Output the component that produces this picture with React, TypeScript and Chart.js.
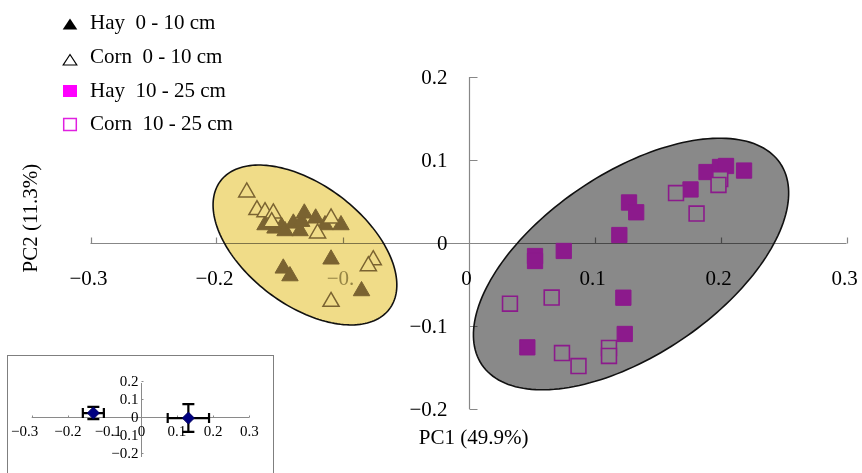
import React, { useEffect, useRef } from "react";
import { Chart, registerables } from "chart.js";

Chart.register(...registerables);

// ---------- DATA ----------
const SERIES_LABELS = ["Hay  0 - 10 cm", "Corn  0 - 10 cm", "Hay  10 - 25 cm", "Corn  10 - 25 cm"];

const HAY_0_10_X = [-0.1615, -0.1536, -0.1483, -0.1456, -0.139, -0.1337, -0.1324, -0.1303, -0.1213, -0.1139, -0.1012, -0.1091, -0.147, -0.1417, -0.0849];
const HAY_0_10_Y = [0.0217, 0.0177, 0.0196, 0.0145, 0.0237, 0.0145, 0.0257, 0.0358, 0.0298, 0.0217, 0.0217, -0.0196, -0.0305, -0.0398, -0.0578];

const CORN_0_10_X = [-0.176, -0.1679, -0.1615, -0.1549, -0.1562, -0.1091, -0.1198, -0.0756, -0.0795, -0.1091];
const CORN_0_10_Y = [0.0611, 0.0398, 0.0373, 0.0358, 0.0253, 0.0298, 0.0117, -0.0205, -0.0277, -0.0707];

const HAY_10_25_X = [0.0528, 0.0528, 0.0756, 0.1197, 0.1274, 0.1331, 0.1229, 0.124, 0.0467, 0.1762, 0.1889, 0.1996, 0.2044, 0.2187];
const HAY_10_25_Y = [-0.0157, -0.0217, -0.0096, 0.0096, 0.0488, 0.037, -0.0659, -0.1096, -0.1257, 0.0645, 0.0855, 0.0916, 0.0928, 0.0873];

const CORN_10_25_X = [0.0329, 0.066, 0.0742, 0.0873, 0.1115, 0.1115, 0.1647, 0.181, 0.1998, 0.1984];
const CORN_10_25_Y = [-0.0731, -0.0657, -0.1326, -0.1483, -0.1265, -0.1361, 0.0602, 0.0355, 0.0771, 0.0699];

// ellipses: [centerX, centerY, axis1X, axis1Y, axis2X, axis2Y] in data units
const ELLIPSE_0_10 = [-0.1298, -0.0024, 0.067, -0.0772, -0.0288, -0.0576];
const ELLIPSE_10_25 = [0.129, -0.0253, 0.1184, 0.1213, 0.0404, -0.0909];

const X_TICKS = [-0.3, -0.2, -0.1, 0, 0.1, 0.2, 0.3];
const X_TICK_LABELS = ["\u22120.3", "\u22120.2", "\u22120.", "0", "0.1", "0.2", "0.3"];
const Y_TICKS = [-0.2, -0.1, 0, 0.1, 0.2];
const Y_TICK_LABELS = ["\u22120.2", "\u22120.1", "0", "0.1", "0.2"];
const X_TITLE = "PC1 (49.9%)";
const Y_TITLE = "PC2 (11.3%)";

// inset
const INSET_X = [-0.13, 0.132];
const INSET_Y = [0.022, -0.006];
const INSET_X_ERR = [0.029, 0.057];
const INSET_Y_ERR = [0.034, 0.077];
const INSET_X_TICKS = [-0.3, -0.2, -0.1, 0, 0.1, 0.2, 0.3];
const INSET_X_TICK_LABELS = ["\u22120.3", "\u22120.2", "\u22120.1", "0", "0.1", "0.2", "0.3"];
const INSET_Y_TICKS = [-0.2, -0.1, 0, 0.1, 0.2];
const INSET_Y_TICK_LABELS = ["\u22120.2", "\u22120.1", "0", "0.1", "0.2"];

// ---------- STYLE ----------
const FONT = "'Liberation Serif', 'Times New Roman', serif";
const YELLOW = "#F0DC88";
const GRAY = "#898989";
const OLIVE = "#7A6331";
const PURPLE = "#8C1A8C";
const AXIS = "rgba(0,0,0,0.47)";

const toPoints = (xs: number[], ys: number[]) => xs.map((x, i) => ({ x, y: ys[i] }));

function ellipsePath(chart: any, e: number[]) {
  const { ctx } = chart;
  const xs = chart.scales.x, ys = chart.scales.y;
  ctx.beginPath();
  const n = 180;
  for (let i = 0; i <= n; i++) {
    const t = (i / n) * Math.PI * 2;
    const dx = e[0] + e[2] * Math.cos(t) + e[4] * Math.sin(t);
    const dy = e[1] + e[3] * Math.cos(t) + e[5] * Math.sin(t);
    const px = xs.getPixelForValue(dx), py = ys.getPixelForValue(dy);
    if (i === 0) ctx.moveTo(px, py); else ctx.lineTo(px, py);
  }
  ctx.closePath();
}

const mainDecor = {
  id: "mainDecor",
  beforeDatasetsDraw(chart: any) {
    const { ctx } = chart;
    const xs = chart.scales.x, ys = chart.scales.y;
    const px = (v: number) => xs.getPixelForValue(v);
    const py = (v: number) => ys.getPixelForValue(v);
    ctx.save();
    // ellipse fills
    ellipsePath(chart, ELLIPSE_0_10);
    ctx.fillStyle = YELLOW;
    ctx.fill();
    ellipsePath(chart, ELLIPSE_10_25);
    ctx.fillStyle = GRAY;
    ctx.fill();

    // axes
    ctx.strokeStyle = AXIS;
    ctx.lineWidth = 1.2;
    const y0 = Math.round(py(0)) + 0.5;
    const x0 = Math.round(px(0)) + 0.5;
    ctx.beginPath();
    ctx.moveTo(px(-0.3), y0);
    ctx.lineTo(px(0.3), y0);
    X_TICKS.forEach((v) => {
      const x = Math.round(px(v)) + 0.5;
      ctx.moveTo(x, y0);
      ctx.lineTo(x, y0 - 6);
    });
    ctx.moveTo(x0, py(0.2));
    ctx.lineTo(x0, py(-0.2));
    Y_TICKS.forEach((v) => {
      const y = Math.round(py(v)) + 0.5;
      ctx.moveTo(x0, y);
      ctx.lineTo(x0 + 8, y);
    });
    ctx.stroke();

    // tick labels
    ctx.font = `21px ${FONT}`;
    ctx.textBaseline = "middle";
    ctx.textAlign = "center";
    X_TICKS.forEach((v, i) => {
      ctx.fillStyle = X_TICK_LABELS[i] === "\u22120." ? "rgba(60,45,0,0.5)" : "#000";
      ctx.fillText(X_TICK_LABELS[i], px(v) - 2, py(0) + 36);
    });
    ctx.fillStyle = "#000";
    ctx.textAlign = "right";
    Y_TICKS.forEach((v, i) => {
      ctx.fillText(Y_TICK_LABELS[i], px(0) - 21, py(v) + 1);
    });

    // titles
    ctx.textAlign = "center";
    ctx.fillText(X_TITLE, px(0.004), py(-0.2) + 29);
    ctx.save();
    ctx.translate(31, py(0.03));
    ctx.rotate(-Math.PI / 2);
    ctx.fillText(Y_TITLE, 0, 0);
    ctx.restore();

    // legend
    const lx = 70;
    const textX = 90;
    const baselines = [29.3, 62.7, 96.7, 130];
    ctx.textAlign = "left";
    ctx.textBaseline = "alphabetic";
    // filled triangle
    ctx.beginPath();
    ctx.moveTo(lx, 18.5);
    ctx.lineTo(lx + 7.3, 29.5);
    ctx.lineTo(lx - 7.3, 29.5);
    ctx.closePath();
    ctx.fillStyle = "#000";
    ctx.fill();
    // open triangle
    ctx.beginPath();
    ctx.moveTo(lx, 54.5);
    ctx.lineTo(lx + 6.8, 65);
    ctx.lineTo(lx - 6.8, 65);
    ctx.closePath();
    ctx.fillStyle = "#fff";
    ctx.fill();
    ctx.strokeStyle = "#000";
    ctx.lineWidth = 1.2;
    ctx.stroke();
    // filled square
    ctx.fillStyle = "#FF00FF";
    ctx.fillRect(lx - 7, 85, 14, 12);
    // open square
    ctx.strokeStyle = "#E020E0";
    ctx.lineWidth = 1.5;
    ctx.strokeRect(lx - 6.3, 118.5, 12.6, 12);
    ctx.fillStyle = "#000";
    SERIES_LABELS.forEach((s, i) => ctx.fillText(s, textX, baselines[i]));
    ctx.restore();
  },
  afterDatasetsDraw(chart: any) {
    const { ctx } = chart;
    ctx.save();
    ctx.strokeStyle = "#111";
    ctx.lineWidth = 1.6;
    ellipsePath(chart, ELLIPSE_0_10);
    ctx.stroke();
    ellipsePath(chart, ELLIPSE_10_25);
    ctx.stroke();
    ctx.restore();
  },
};

const insetDecor = {
  id: "insetDecor",
  beforeDatasetsDraw(chart: any) {
    const { ctx } = chart;
    const xs = chart.scales.x, ys = chart.scales.y;
    const px = (v: number) => xs.getPixelForValue(v);
    const py = (v: number) => ys.getPixelForValue(v);
    ctx.save();
    ctx.strokeStyle = "#8a8a8a";
    ctx.lineWidth = 1;
    const y0 = Math.round(py(0)) + 0.5;
    const x0 = Math.round(px(0)) + 0.5;
    ctx.beginPath();
    ctx.moveTo(px(-0.3), y0);
    ctx.lineTo(px(0.3), y0);
    INSET_X_TICKS.forEach((v) => {
      const x = Math.round(px(v)) + 0.5;
      ctx.moveTo(x, y0);
      ctx.lineTo(x, y0 - 2);
    });
    ctx.moveTo(x0, py(0.2) + 2);
    ctx.lineTo(x0, py(-0.2) + 4);
    INSET_Y_TICKS.forEach((v) => {
      const y = Math.round(py(v)) + 0.5;
      ctx.moveTo(x0, y);
      ctx.lineTo(x0 + 2, y);
    });
    ctx.stroke();
    ctx.fillStyle = "#000";
    ctx.font = `15px ${FONT}`;
    ctx.textBaseline = "middle";
    ctx.textAlign = "center";
    INSET_X_TICKS.forEach((v, i) => {
      const shift = v === -0.3 ? -7 : v === 0 ? 1 : v === -0.1 ? 4 : 0;
      ctx.fillText(INSET_X_TICK_LABELS[i], px(v) + shift, py(0) + 15);
    });
    ctx.textAlign = "right";
    INSET_Y_TICKS.forEach((v, i) => {
      ctx.fillText(INSET_Y_TICK_LABELS[i], px(0) - 2, py(v) + 1);
    });
    // error bars
    ctx.strokeStyle = "#000";
    ctx.lineWidth = 2.2;
    ctx.beginPath();
    INSET_X.forEach((xv, i) => {
      const yv = INSET_Y[i];
      const cx = px(xv), cy = py(yv);
      const xl = px(xv - INSET_X_ERR[i]), xr = px(xv + INSET_X_ERR[i]);
      const yt = py(yv + INSET_Y_ERR[i]), yb = py(yv - INSET_Y_ERR[i]);
      ctx.moveTo(xl, cy); ctx.lineTo(xr, cy);
      ctx.moveTo(xl, cy - 5); ctx.lineTo(xl, cy + 5);
      ctx.moveTo(xr, cy - 5); ctx.lineTo(xr, cy + 5);
      ctx.moveTo(cx, yt); ctx.lineTo(cx, yb);
      ctx.moveTo(cx - 6, yt); ctx.lineTo(cx + 6, yt);
      ctx.moveTo(cx - 6, yb); ctx.lineTo(cx + 6, yb);
    });
    ctx.stroke();
    ctx.restore();
  },
};

export default function App() {
  const mainRef = useRef<HTMLCanvasElement>(null);
  const insetRef = useRef<HTMLCanvasElement>(null);

  useEffect(() => {
    const main = new Chart(mainRef.current as HTMLCanvasElement, {
      type: "scatter",
      data: {
        datasets: [
          {
            label: SERIES_LABELS[1],
            data: toPoints(CORN_0_10_X, CORN_0_10_Y),
            pointStyle: "triangle",
            pointRadius: 9.3,
            pointBackgroundColor: YELLOW,
            pointBorderColor: OLIVE,
            pointBorderWidth: 1.5,
          },
          {
            label: SERIES_LABELS[0],
            data: toPoints(HAY_0_10_X, HAY_0_10_Y),
            pointStyle: "triangle",
            pointRadius: 9.5,
            pointBackgroundColor: OLIVE,
            pointBorderColor: OLIVE,
            pointBorderWidth: 1,
          },
          {
            label: SERIES_LABELS[3],
            data: toPoints(CORN_10_25_X, CORN_10_25_Y),
            pointStyle: "rect",
            pointRadius: 10.5,
            pointBackgroundColor: GRAY,
            pointBorderColor: PURPLE,
            pointBorderWidth: 1.6,
          },
          {
            label: SERIES_LABELS[2],
            data: toPoints(HAY_10_25_X, HAY_10_25_Y),
            pointStyle: "rect",
            pointRadius: 10.8,
            pointBackgroundColor: PURPLE,
            pointBorderColor: PURPLE,
            pointBorderWidth: 1,
          },
        ],
      },
      options: {
        responsive: false,
        animation: false,
        events: [],
        layout: { padding: { left: 90.5, right: 15.5, top: 77, bottom: 64 } },
        plugins: { legend: { display: false }, tooltip: { enabled: false } },
        scales: {
          x: { type: "linear", min: -0.3, max: 0.3, display: false },
          y: { type: "linear", min: -0.2, max: 0.2, display: false },
        },
      },
      plugins: [mainDecor],
    });

    const inset = new Chart(insetRef.current as HTMLCanvasElement, {
      type: "scatter",
      data: {
        datasets: [
          {
            label: "mean",
            data: toPoints(INSET_X, INSET_Y),
            pointStyle: "rectRot",
            pointRadius: 6,
            pointBackgroundColor: "#000080",
            pointBorderColor: "#000060",
            pointBorderWidth: 1,
          },
        ],
      },
      options: {
        responsive: false,
        animation: false,
        events: [],
        layout: { padding: { left: 23.7, right: 23.7, top: 25, bottom: 20 } },
        plugins: { legend: { display: false }, tooltip: { enabled: false } },
        scales: {
          x: { type: "linear", min: -0.3, max: 0.3, display: false },
          y: { type: "linear", min: -0.2, max: 0.2, display: false },
        },
      },
      plugins: [insetDecor],
    });

    return () => {
      main.destroy();
      inset.destroy();
    };
  }, []);

  return (
    <div style={{ position: "absolute", left: 0, top: 0, width: 862, height: 473, background: "#fff", overflow: "hidden" }}>
      <canvas ref={mainRef} width={862} height={473} style={{ position: "absolute", left: 0, top: 0, width: 862, height: 473 }} />
      <div style={{ position: "absolute", left: 7, top: 355, width: 265, height: 130, border: "1px solid #7f7f7f", background: "#fff" }}>
        <canvas ref={insetRef} width={265} height={117} style={{ display: "block", width: 265, height: 117 }} />
      </div>
    </div>
  );
}
